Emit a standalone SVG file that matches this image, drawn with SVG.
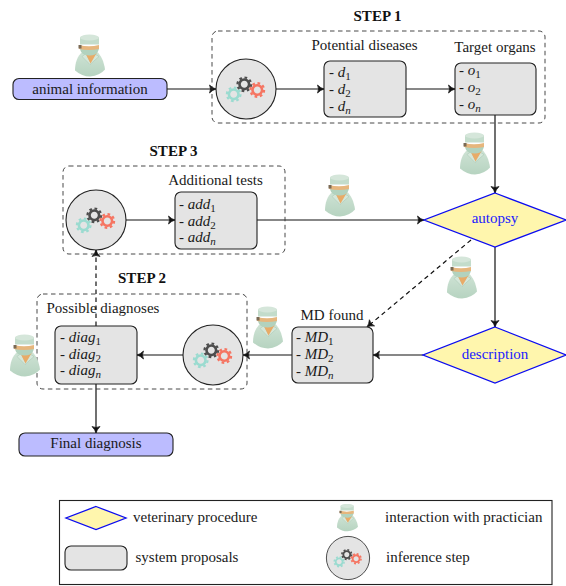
<svg xmlns="http://www.w3.org/2000/svg" xmlns:xlink="http://www.w3.org/1999/xlink" width="566" height="586" viewBox="0 0 566 586">
<style>
text{font-family:"Liberation Serif","Times New Roman",serif;font-size:15px;fill:#1a1a1a}
.c{text-anchor:middle}
.t{font-weight:bold;font-size:15px;text-anchor:middle;fill:#111}
.p{fill:#1a1aff;text-anchor:middle}
.i{font-style:italic}
.s{font-size:11px}
.n{font-size:11px;font-style:italic}
.term{fill:#bcbcff;stroke:#222;stroke-width:1.1}
.box{fill:#e4e4e4;stroke:#222;stroke-width:1.1}
.dia{fill:#fff6ad;stroke:#0b0bf0;stroke-width:1.3}
.step{fill:none;stroke:#333;stroke-width:.9;stroke-dasharray:4.5 3.5}
.ln{fill:none;stroke:#111;stroke-width:1.2;marker-end:url(#a)}
.dl{stroke-dasharray:4.5 3.5}
</style>
<defs>
<marker id="a" markerUnits="userSpaceOnUse" markerWidth="12" markerHeight="12" refX="7" refY="5" orient="auto" overflow="visible">
<path d="M0.5 1 Q3.5 4 7 5 Q3.500 6 0.5 9 Q2.500 5 0.5 1Z" fill="#111" stroke="#111" stroke-width=".7"/>
</marker>
<g id="gr"><circle r="4.8" fill="none" stroke-width="2.6"/><circle r="6.8" fill="none" stroke-width="2.2" stroke-dasharray="2.670 2.670"/></g>
<g id="gears">
<circle r="30" fill="#e4e4e4" stroke="#222" stroke-width="1.1"/>
<use xlink:href="#gr" href="#gr" x="-1.7" y="-4.7" stroke="#4d4d4d"/>
<use xlink:href="#gr" href="#gr" x="11.3" y="1" stroke="#f57562"/>
<use xlink:href="#gr" href="#gr" x="-12.3" y="5.3" stroke="#9bdbd0"/>
</g>
<linearGradient id="bd" x1="0" y1="0" x2="0" y2="1"><stop offset="0" stop-color="#cfe3d5"/><stop offset="1" stop-color="#b6d3c0"/></linearGradient>
<g id="doc">
<path d="M8 17C2 21 0 29 0 36Q7 42 15 42Q25 41 30 35C29 27 26 21 22 17Z" fill="url(#bd)"/>
<path d="M7 22L11 19L15 27L19 19L24 22L15 30Z" fill="#d5e7da" stroke="#a5c5b0" stroke-width=".5"/>
<path d="M10 18L22 18L15.500 29Z" fill="#e8ab68"/>
<path d="M5 13Q5 18 9 20Q15 22 20 20Q24 17 24 13Z" fill="#b2d2be"/>
<path d="M5 3C8 -.5 20 -.5 24 3L24 10L5 10Z" fill="#c3dccb"/>
<ellipse cx="14.500" cy="3" rx="9.500" ry="3" fill="#d5e6da"/>
<path d="M4 10.500Q14 13 24 10.500L24 14.500Q14 16.500 4 14.500Z" fill="#e6b67d"/>
<rect x="3.500" y="10.500" width="3" height="3.500" fill="#7a6a55"/>
</g>
</defs>

<g id="connectors">
<path class="ln" d="M167 89H216"/>
<path class="ln" d="M276 89H324"/>
<path class="ln" d="M406 89H455"/>
<path class="ln" d="M495 115V193"/>
<path class="ln" d="M126 220H175"/>
<path class="ln" d="M257 220H424"/>
<path class="ln" d="M495 247V327"/>
<path class="ln" d="M423 355H373"/>
<path class="ln" d="M292 355H243"/>
<path class="ln" d="M183 355H137"/>
<path class="ln" d="M96 384V433"/>
<path class="ln dl" d="M471 240L367 327"/>
<path class="ln dl" d="M96 326V250"/>
</g>

<g id="step1"><rect class="step" x="212" y="31" width="333" height="92" rx="6"/><text class="t" x="377.500" y="21">STEP 1</text></g>
<g id="step3"><rect class="step" x="63" y="166" width="222" height="88" rx="6"/><text class="t" x="173.500" y="156">STEP 3</text></g>
<g id="step2"><rect class="step" x="37" y="294" width="210" height="95" rx="6"/><text class="t" x="142" y="283">STEP 2</text></g>

<g id="animal-information"><rect class="term" x="13" y="78.500" width="154" height="21" rx="6"/><text class="c" x="90" y="94">animal information</text></g>
<g id="inference-1"><use xlink:href="#gears" href="#gears" x="246" y="89"/></g>
<g id="potential-diseases"><text class="c" x="364.500" y="50">Potential diseases</text>
<rect class="box" x="324" y="61" width="82" height="56" rx="6"/>
<text x="329" y="77">- <tspan class="i">d</tspan><tspan class="s" dy="2.5">1</tspan></text>
<text x="329" y="94">- <tspan class="i">d</tspan><tspan class="s" dy="2.5">2</tspan></text>
<text x="329" y="111">- <tspan class="i">d</tspan><tspan class="n" dy="2.5">n</tspan></text></g>
<g id="target-organs"><text class="c" x="495" y="52">Target organs</text>
<rect class="box" x="455" y="63" width="81" height="52" rx="6"/>
<text x="459" y="75">- <tspan class="i">o</tspan><tspan class="s" dy="2.5">1</tspan></text>
<text x="459" y="92">- <tspan class="i">o</tspan><tspan class="s" dy="2.5">2</tspan></text>
<text x="459" y="109">- <tspan class="i">o</tspan><tspan class="n" dy="2.5">n</tspan></text></g>
<g id="inference-3"><use xlink:href="#gears" href="#gears" x="96" y="220"/></g>
<g id="additional-tests"><text class="c" x="215.500" y="185">Additional tests</text>
<rect class="box" x="175" y="192" width="82" height="57" rx="6"/>
<text x="179" y="209">- <tspan class="i">add</tspan><tspan class="s" dy="2.5">1</tspan></text>
<text x="179" y="226">- <tspan class="i">add</tspan><tspan class="s" dy="2.5">2</tspan></text>
<text x="179" y="242">- <tspan class="i">add</tspan><tspan class="n" dy="2.5">n</tspan></text></g>
<g id="autopsy"><path class="dia" d="M495 193L566 220L495 247L424 220Z"/><text class="p" x="495" y="223">autopsy</text></g>
<g id="description"><path class="dia" d="M495 327L566 355L495 383L423 355Z"/><text class="p" x="495" y="359">description</text></g>
<g id="md-found"><text class="c" x="332" y="320">MD found</text>
<rect class="box" x="292" y="327" width="81" height="56" rx="6"/>
<text x="296" y="342">- <tspan class="i">MD</tspan><tspan class="s" dy="2.5">1</tspan></text>
<text x="296" y="359">- <tspan class="i">MD</tspan><tspan class="s" dy="2.5">2</tspan></text>
<text x="296" y="376">- <tspan class="i">MD</tspan><tspan class="n" dy="2.5">n</tspan></text></g>
<g id="inference-2"><use xlink:href="#gears" href="#gears" x="213" y="355"/></g>
<g id="possible-diagnoses"><text class="c" x="103" y="313">Possible diagnoses</text>
<rect class="box" x="55" y="326" width="82" height="58" rx="6"/>
<text x="60" y="342">- <tspan class="i">diag</tspan><tspan class="s" dy="2.5">1</tspan></text>
<text x="60" y="359">- <tspan class="i">diag</tspan><tspan class="s" dy="2.5">2</tspan></text>
<text x="60" y="375">- <tspan class="i">diag</tspan><tspan class="n" dy="2.5">n</tspan></text></g>
<g id="final-diagnosis"><rect class="term" x="19" y="433" width="154" height="23" rx="6"/><text class="c" x="96" y="448">Final diagnosis</text></g>

<g id="practician-1"><use xlink:href="#doc" href="#doc" x="75" y="34.500"/></g>
<g id="practician-2"><use xlink:href="#doc" href="#doc" x="460" y="132.500"/></g>
<g id="practician-3"><use xlink:href="#doc" href="#doc" x="325" y="174.500"/></g>
<g id="practician-4"><use xlink:href="#doc" href="#doc" x="447" y="256.500"/></g>
<g id="practician-5"><use xlink:href="#doc" href="#doc" x="253" y="306.500"/></g>
<g id="practician-6"><use xlink:href="#doc" href="#doc" x="10" y="334.500"/></g>

<g id="legend">
<rect x="59.500" y="500.500" width="492.500" height="84" fill="#fff" stroke="#222" stroke-width="1.1"/>
<path class="dia" d="M96 506.500L126 518L96 529.500L66 518Z"/>
<text x="133" y="522">veterinary procedure</text>
<use xlink:href="#doc" href="#doc" transform="translate(337 504) scale(.7 .65)"/>
<text x="385" y="522">interaction with practician</text>
<rect class="box" x="65" y="546" width="62" height="24" rx="6"/>
<text x="135.500" y="562">system proposals</text>
<use xlink:href="#gears" href="#gears" transform="translate(348 558) scale(.72)"/>
<text x="386" y="562">inference step</text>
</g>
</svg>
